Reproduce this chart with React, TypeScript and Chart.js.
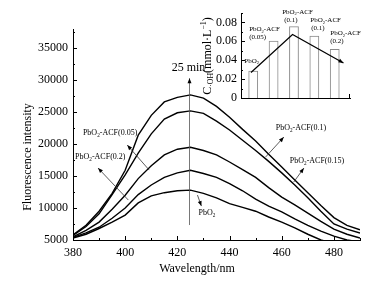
import React, { useEffect, useRef } from "react";
import { Chart, registerables } from "chart.js";
Chart.register(...registerables);

const FONT = "'Liberation Serif', 'Times New Roman', serif";

// ---- main chart data ----
const wavelengths = [380, 385, 390, 395, 400, 405, 410, 415, 420, 425, 430, 435, 440, 445, 450, 455, 460, 465, 470, 475, 480, 485, 490];
const seriesACF01 = [5800, 7300, 9500, 12300, 15900, 21400, 24500, 26600, 27300, 27700, 27200, 25900, 24200, 22300, 20500, 18400, 16400, 14400, 12400, 10400, 8500, 7300, 6600];
const seriesACF015 = [5700, 7100, 9100, 12100, 15200, 18600, 21600, 23900, 24900, 25200, 24800, 23600, 22200, 20600, 19000, 17300, 15500, 13600, 11600, 9500, 7500, 6700, 6100];
const seriesACF005 = [5500, 6500, 7800, 9800, 12000, 14600, 16600, 18300, 19200, 19500, 19000, 18300, 17200, 16000, 14800, 13200, 11700, 10500, 9200, 7900, 6700, 5900, 5300];
const seriesACF02 = [5400, 6100, 7000, 8400, 10000, 12100, 13600, 14800, 15500, 15900, 15400, 14800, 13800, 12700, 11400, 10300, 9400, 8300, 7300, 6400, 5600, 5000, 4700];
const seriesPbO2 = [5300, 5900, 6800, 7800, 8900, 10800, 11900, 12400, 12700, 12800, 12300, 11600, 10700, 10100, 9500, 8600, 7800, 6900, 5900, 5000, 4500, 4200, 4000];

const xTicks = [380, 400, 420, 440, 460, 480];
const yTicks = [5000, 10000, 15000, 20000, 25000, 30000, 35000];

// annotations in data units (nm, intensity)
type Seg = [string, number];
const mainLabels: { segs: Seg[]; x: number; y: number }[] = [
  { segs: [["PbO", 0], ["2", 1], ["-ACF(0.05)", 0]], x: 383.8, y: 21720 },
  { segs: [["PbO", 0], ["2", 1], ["-ACF(0.2)", 0]], x: 380.8, y: 17970 },
  { segs: [["PbO", 0], ["2", 1], ["-ACF(0.1)", 0]], x: 457.7, y: 22500 },
  { segs: [["PbO", 0], ["2", 1], ["-ACF(0.15)", 0]], x: 463.1, y: 17340 },
  { segs: [["PbO", 0], ["2", 1]], x: 428.1, y: 9220 },
];
const mainArrows = [
  { x1: 409.2, y1: 15940, x2: 400.8, y2: 19840 },
  { x1: 401.2, y1: 11250, x2: 389.6, y2: 16250 },
  { x1: 453.8, y1: 17970, x2: 460.8, y2: 21090 },
  { x1: 464.6, y1: 14060, x2: 468.5, y2: 16250 },
  { x1: 427.7, y1: 12030, x2: 429.2, y2: 10310 },
];
const timeMarkerX = 424.5;
const timeMarkerFrom = 7340;
const timeMarkerTo = 30310;
const timeLabelY = 31875;

// ---- inset data ----
const insetValues = [0.0288, 0.0605, 0.076, 0.066, 0.052];
const insetTicks = [0, 0.02, 0.04, 0.06, 0.08];
const insetTrendX = [-0.11, 1.93, 4.43];
const insetTrendY = [0.027, 0.0672, 0.037];
const insetLabels: { segs: Seg[]; x: number; y: number }[] = [
  { segs: [["PbO", 0], ["2", 1]], x: -0.44, y: 0.0395 },
  { segs: [["PbO", 0], ["2", 1], ["-ACF", 0]], x: -0.2, y: 0.0725 },
  { segs: [["(0.05)", 0]], x: -0.2, y: 0.0645 },
  { segs: [["PbO", 0], ["2", 1], ["-ACF", 0]], x: 1.42, y: 0.0907 },
  { segs: [["(0.1)", 0]], x: 1.52, y: 0.0827 },
  { segs: [["PbO", 0], ["2", 1], ["-ACF", 0]], x: 2.8, y: 0.0821 },
  { segs: [["(0.1)", 0]], x: 2.85, y: 0.0741 },
  { segs: [["PbO", 0], ["2", 1], ["-ACF", 0]], x: 3.78, y: 0.0683 },
  { segs: [["(0.2)", 0]], x: 3.78, y: 0.0597 },
];

function drawRich(ctx: CanvasRenderingContext2D, segs: Seg[], x: number, y: number, size: number) {
  ctx.textBaseline = "middle";
  ctx.textAlign = "left";
  let cx = x;
  for (const [t, k] of segs) {
    const s = k === 0 ? size : size * 0.65;
    ctx.font = `${s}px ${FONT}`;
    const dy = k === 1 ? size * 0.28 : k === -1 ? -size * 0.32 : 0;
    ctx.fillText(t, cx, y + dy);
    cx += ctx.measureText(t).width;
  }
}
function richWidth(ctx: CanvasRenderingContext2D, segs: Seg[], size: number) {
  let w = 0;
  for (const [t, k] of segs) {
    ctx.font = `${k === 0 ? size : size * 0.65}px ${FONT}`;
    w += ctx.measureText(t).width;
  }
  return w;
}
function drawArrow(ctx: CanvasRenderingContext2D, x1: number, y1: number, x2: number, y2: number, len = 5, half = 2) {
  ctx.beginPath();
  ctx.moveTo(x1, y1);
  ctx.lineTo(x2, y2);
  ctx.stroke();
  const a = Math.atan2(y2 - y1, x2 - x1);
  ctx.beginPath();
  ctx.moveTo(x2, y2);
  ctx.lineTo(x2 - len * Math.cos(a) + half * Math.sin(a), y2 - len * Math.sin(a) - half * Math.cos(a));
  ctx.lineTo(x2 - len * Math.cos(a) - half * Math.sin(a), y2 - len * Math.sin(a) + half * Math.cos(a));
  ctx.closePath();
  ctx.fill();
}

export default function App() {
  const mainRef = useRef<HTMLCanvasElement>(null);
  const insetRef = useRef<HTMLCanvasElement>(null);

  useEffect(() => {
    document.body.style.margin = "0";
    const mainDecor = {
      id: "mainDecor",
      afterDraw(chart: any) {
        const { ctx, chartArea, scales } = chart;
        const xs = scales.x, ys = scales.y;
        ctx.save();
        ctx.strokeStyle = "#000";
        ctx.fillStyle = "#000";
        ctx.lineWidth = 1;
        // inward ticks
        ctx.beginPath();
        for (let v = 5000; v <= 38000; v += 2500) {
          const py = Math.round(ys.getPixelForValue(v)) + 0.5;
          const l = v % 5000 === 0 ? 4 : 2;
          ctx.moveTo(chartArea.left, py);
          ctx.lineTo(chartArea.left + l, py);
        }
        for (let v = 380; v <= 490; v += 10) {
          const px = Math.round(xs.getPixelForValue(v)) + 0.5;
          const l = v % 20 === 0 ? 4 : 2;
          ctx.moveTo(px, chartArea.bottom);
          ctx.lineTo(px, chartArea.bottom - l);
        }
        ctx.stroke();
        // axis titles
        ctx.font = `12px ${FONT}`;
        ctx.textAlign = "center";
        ctx.textBaseline = "middle";
        ctx.fillText("Wavelength/nm", 197, 269);
        ctx.save();
        ctx.translate(28, 157);
        ctx.rotate(-Math.PI / 2);
        ctx.fillText("Fluorescence intensity", 0, 0);
        ctx.restore();
        // labels
        for (const l of mainLabels) {
          drawRich(ctx, l.segs, xs.getPixelForValue(l.x), ys.getPixelForValue(l.y), 8);
        }
        ctx.lineWidth = 0.8;
        ctx.strokeStyle = "#333";
        for (const a of mainArrows) {
          drawArrow(ctx, xs.getPixelForValue(a.x1), ys.getPixelForValue(a.y1), xs.getPixelForValue(a.x2), ys.getPixelForValue(a.y2), 5, 2);
        }
        // time marker
        const tx = Math.round(xs.getPixelForValue(timeMarkerX)) + 0.5;
        ctx.strokeStyle = "#555";
        drawArrow(ctx, tx, ys.getPixelForValue(timeMarkerFrom), tx, ys.getPixelForValue(timeMarkerTo), 5, 2);
        ctx.font = `12px ${FONT}`;
        ctx.textAlign = "center";
        ctx.textBaseline = "middle";
        ctx.fillText("25 min", tx - 1, ys.getPixelForValue(timeLabelY));
        ctx.restore();
      },
    };

    const axisFont = { family: FONT, size: 12 };
    const main = new Chart(mainRef.current!, {
      type: "line",
      data: {
        labels: wavelengths,
        datasets: [seriesACF01, seriesACF015, seriesACF005, seriesACF02, seriesPbO2].map((s) => ({
          data: s.map((v, i) => ({ x: wavelengths[i], y: v })),
          borderColor: "#000",
          borderWidth: 1.4,
          pointRadius: 0,
          tension: 0,
          fill: false,
        })),
      },
      options: {
        animation: false,
        responsive: false,
        devicePixelRatio: 1,
        layout: { padding: { top: 29, right: 27, left: 0, bottom: 0 } },
        plugins: { legend: { display: false }, tooltip: { enabled: false } },
        scales: {
          x: {
            type: "linear",
            min: 380,
            max: 490,
            afterBuildTicks: (s: any) => {
              s.ticks = xTicks.map((v) => ({ value: v }));
            },
            afterFit: (s: any) => {
              s.height = 42;
            },
            ticks: { font: axisFont, color: "#000", padding: 6, maxRotation: 0, autoSkip: false },
            grid: { display: false, drawTicks: false },
            border: { color: "#000", width: 1 },
          },
          y: {
            type: "linear",
            min: 5000,
            max: 38000,
            afterBuildTicks: (s: any) => {
              s.ticks = yTicks.map((v) => ({ value: v }));
            },
            afterFit: (s: any) => {
              s.width = 73;
            },
            ticks: { font: axisFont, color: "#000", padding: 5, autoSkip: false, callback: (v: any) => String(v) },
            grid: { display: false, drawTicks: false },
            border: { color: "#000", width: 1 },
          },
        },
      } as any,
      plugins: [mainDecor],
    });

    const insetDecor = {
      id: "insetDecor",
      afterDraw(chart: any) {
        const { ctx, chartArea, scales } = chart;
        const xs = scales.x, ys = scales.y;
        ctx.save();
        ctx.strokeStyle = "#000";
        ctx.fillStyle = "#000";
        ctx.lineWidth = 1;
        ctx.beginPath();
        for (let i = 0; i <= 9; i++) {
          const v = i * 0.01;
          const py = Math.round(ys.getPixelForValue(v)) + 0.5;
          const l = i % 2 === 0 ? 4 : 2;
          ctx.moveTo(chartArea.left, py);
          ctx.lineTo(chartArea.left + l, py);
        }
        const rx = chartArea.right - 0.5;
        ctx.moveTo(rx, chartArea.bottom);
        ctx.lineTo(rx, chartArea.bottom - 4);
        ctx.stroke();
        // trend arrowhead
        const n = insetTrendX.length;
        const x1 = xs.getPixelForValue(insetTrendX[n - 2]), y1 = ys.getPixelForValue(insetTrendY[n - 2]);
        const x2 = xs.getPixelForValue(insetTrendX[n - 1]), y2 = ys.getPixelForValue(insetTrendY[n - 1]);
        const a = Math.atan2(y2 - y1, x2 - x1);
        ctx.beginPath();
        ctx.moveTo(x2, y2);
        ctx.lineTo(x2 - 5 * Math.cos(a) + 2 * Math.sin(a), y2 - 5 * Math.sin(a) - 2 * Math.cos(a));
        ctx.lineTo(x2 - 5 * Math.cos(a) - 2 * Math.sin(a), y2 - 5 * Math.sin(a) + 2 * Math.cos(a));
        ctx.closePath();
        ctx.fill();
        // labels
        for (const l of insetLabels) {
          drawRich(ctx, l.segs, xs.getPixelForValue(l.x), ys.getPixelForValue(l.y), 7);
        }
        // rotated y title: C_{·OH}(mmol·L^{-1})
        const segs: Seg[] = [["C", 0], ["·OH", 1], ["(mmol·L", 0], ["−1", -1], [")", 0]];
        const size = 12;
        const w = richWidth(ctx, segs, size);
        ctx.save();
        ctx.translate(18, 56);
        ctx.rotate(-Math.PI / 2);
        drawRich(ctx, segs, -w / 2, 0, size);
        ctx.restore();
        ctx.restore();
      },
    };

    const inset = new Chart(insetRef.current!, {
      type: "bar",
      data: {
        datasets: [
          {
            type: "line",
            data: insetTrendX.map((x, i) => ({ x, y: insetTrendY[i] })),
            borderColor: "#000",
            borderWidth: 1.2,
            pointRadius: 0,
            tension: 0,
            order: 0,
          } as any,
          {
            type: "bar",
            data: insetValues.map((v, i) => ({ x: i, y: v })),
            backgroundColor: "rgba(255,255,255,0)",
            borderColor: "#8a8a8a",
            borderWidth: 1,
            borderSkipped: "bottom",
            barPercentage: 1,
            categoryPercentage: 0.48,
            order: 1,
          } as any,
        ],
      },
      options: {
        animation: false,
        responsive: false,
        devicePixelRatio: 1,
        layout: { padding: { top: 13, right: 37, left: 0, bottom: 0 } },
        plugins: { legend: { display: false }, tooltip: { enabled: false } },
        scales: {
          x: {
            type: "linear",
            offset: false,
            min: -0.6,
            max: 4.75,
            ticks: { display: false },
            afterFit: (s: any) => {
              s.height = 12;
            },
            grid: { display: false, drawTicks: false, offset: false },
            border: { color: "#000", width: 1 },
          },
          y: {
            type: "linear",
            min: 0,
            max: 0.09,
            afterBuildTicks: (s: any) => {
              s.ticks = insetTicks.map((v) => ({ value: v }));
            },
            afterFit: (s: any) => {
              s.width = 51;
            },
            ticks: {
              font: { family: FONT, size: 12 },
              color: "#000",
              padding: 4,
              autoSkip: false,
              callback: (v: any) => (v === 0 ? "0" : Number(v).toFixed(2)),
            },
            grid: { display: false, drawTicks: false },
            border: { color: "#000", width: 1 },
          },
        },
      } as any,
      plugins: [insetDecor],
    });

    return () => {
      main.destroy();
      inset.destroy();
    };
  }, []);

  return (
    <div style={{ position: "relative", width: 387, height: 282, background: "#fff" }}>
      <canvas ref={mainRef} width={387} height={282} style={{ position: "absolute", left: 0, top: 0, width: 387, height: 282 }} />
      <canvas ref={insetRef} width={197} height={110} style={{ position: "absolute", left: 190, top: 0, width: 197, height: 110 }} />
    </div>
  );
}
